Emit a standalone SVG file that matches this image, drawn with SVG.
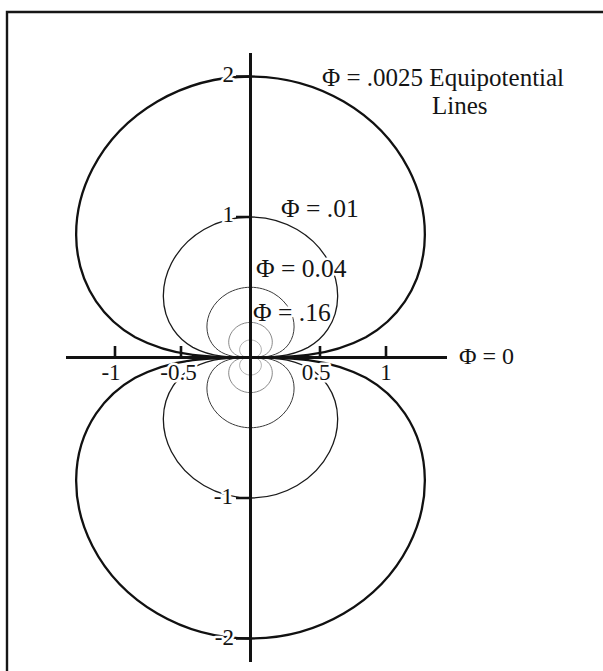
<svg xmlns="http://www.w3.org/2000/svg" xmlns:xlink="http://www.w3.org/1999/xlink" width="603" height="671" viewBox="0 0 603 671">
<style>
  text { font-family: "Liberation Serif", "Times New Roman", serif; font-size: 23px; fill: #141414; }
  .big { font-size: 25.5px; }
  .title { font-size: 25px; }
  .mid { font-size: 24px; }
  .halo { stroke: #ffffff; stroke-width: 5; stroke-linejoin: round; paint-order: stroke; }
  .eq { fill: none; stroke-linejoin: round; }
  .e0025 { stroke: #111111; stroke-width: 2.3; }
  .e01 { stroke: #1a1a1a; stroke-width: 1.3; }
  .e04 { stroke: #3a3a3a; stroke-width: 1.0; }
  .e16 { stroke: #7a7a7a; stroke-width: 0.9; }
  .e64 { stroke: #a0a0a0; stroke-width: 0.8; }
  .axis { stroke: #121212; stroke-width: 3; fill: none; }
  .tick { stroke: #121212; stroke-width: 2.6; fill: none; }
  .frame { stroke: #161616; stroke-width: 2.4; fill: none; }
</style>
<defs>
  <path id="lobe" vector-effect="non-scaling-stroke" d="M0,0 C-0.1368,0 -0.2736,0 -0.4104,-0.0723 C-0.4739,-0.1081 -0.5173,-0.1520 -0.5496,-0.2000 C-0.5980,-0.2719 -0.6197,-0.3532 -0.6204,-0.4344 C-0.6212,-0.5156 -0.6005,-0.5969 -0.5626,-0.6705 C-0.5121,-0.7687 -0.4305,-0.8530 -0.3315,-0.9109 C-0.2325,-0.9688 -0.11636,-1 0,-1 C0.11636,-1 0.2325,-0.9688 0.3315,-0.9109 C0.4305,-0.8530 0.5121,-0.7687 0.5626,-0.6705 C0.6005,-0.5969 0.6212,-0.5156 0.6204,-0.4344 C0.6197,-0.3532 0.5980,-0.2719 0.5496,-0.2000 C0.5173,-0.1520 0.4739,-0.1081 0.4104,-0.0723 C0.2736,0 0.1368,0 0,0 Z"/>
</defs>

<g id="frame">
  <path class="frame" d="M7,671 V12 H603"/>
</g>

<g id="curves">
  <g id="phi-064" class="eq e64">
    <use xlink:href="#lobe" href="#lobe" transform="translate(250.5 357.5) scale(17.5625)"/>
    <use xlink:href="#lobe" href="#lobe" transform="translate(250.5 357.5) scale(17.5625 -17.5625)"/>
  </g>
  <g id="phi-016" class="eq e16">
    <use xlink:href="#lobe" href="#lobe" transform="translate(250.5 357.5) scale(35.125)"/>
    <use xlink:href="#lobe" href="#lobe" transform="translate(250.5 357.5) scale(35.125 -35.125)"/>
  </g>
  <g id="phi-004" class="eq e04">
    <use xlink:href="#lobe" href="#lobe" transform="translate(250.5 357.5) scale(70.25)"/>
    <use xlink:href="#lobe" href="#lobe" transform="translate(250.5 357.5) scale(70.25 -70.25)"/>
  </g>
  <g id="phi-001" class="eq e01">
    <use xlink:href="#lobe" href="#lobe" transform="translate(250.5 357.5) scale(140.5)"/>
    <use xlink:href="#lobe" href="#lobe" transform="translate(250.5 357.5) scale(140.5 -140.5)"/>
  </g>
  <g id="phi-00025" class="eq e0025">
    <use xlink:href="#lobe" href="#lobe" transform="translate(250.5 357.5) scale(281)"/>
    <use xlink:href="#lobe" href="#lobe" transform="translate(250.5 357.5) scale(281 -281)"/>
  </g>
</g>

<g id="labels">
  <text class="halo title"><tspan x="322" y="85.5">Φ = .0025 Equipotential</tspan><tspan x="432" y="113.5">Lines</tspan></text>
  <text class="halo big" x="281" y="217">Φ = .01</text>
  <text class="halo big" x="256" y="277">Φ = 0.04</text>
  <text class="halo big" x="253" y="321">Φ = .16</text>
  <text class="halo mid" x="459" y="364">Φ = 0</text>
  <text class="halo" x="234" y="82" text-anchor="end">2</text>
  <text class="halo" x="234" y="222" text-anchor="end">1</text>
  <text class="halo" x="233" y="504" text-anchor="end">-1</text>
  <text class="halo" x="234" y="645" text-anchor="end">-2</text>
  <text class="halo" x="111" y="380" text-anchor="middle">-1</text>
  <text class="halo" x="178.5" y="380" text-anchor="middle">-0.5</text>
  <text class="halo" x="316" y="380" text-anchor="middle">0.5</text>
  <text class="halo" x="386" y="380" text-anchor="middle">1</text>
</g>

<g id="axes">
  <path class="axis" d="M250.5,53 V662"/>
  <path class="axis" d="M66,357.5 H447"/>
  <path class="tick" d="M236,76.5 H250.5 M236,217 H250.5 M236,498 H250.5 M236,638.5 H250.5"/>
  <path class="tick" d="M115,346 V357.5 M181,346 V357.5 M320,346 V357.5 M386,346 V357.5"/>
</g>
</svg>
